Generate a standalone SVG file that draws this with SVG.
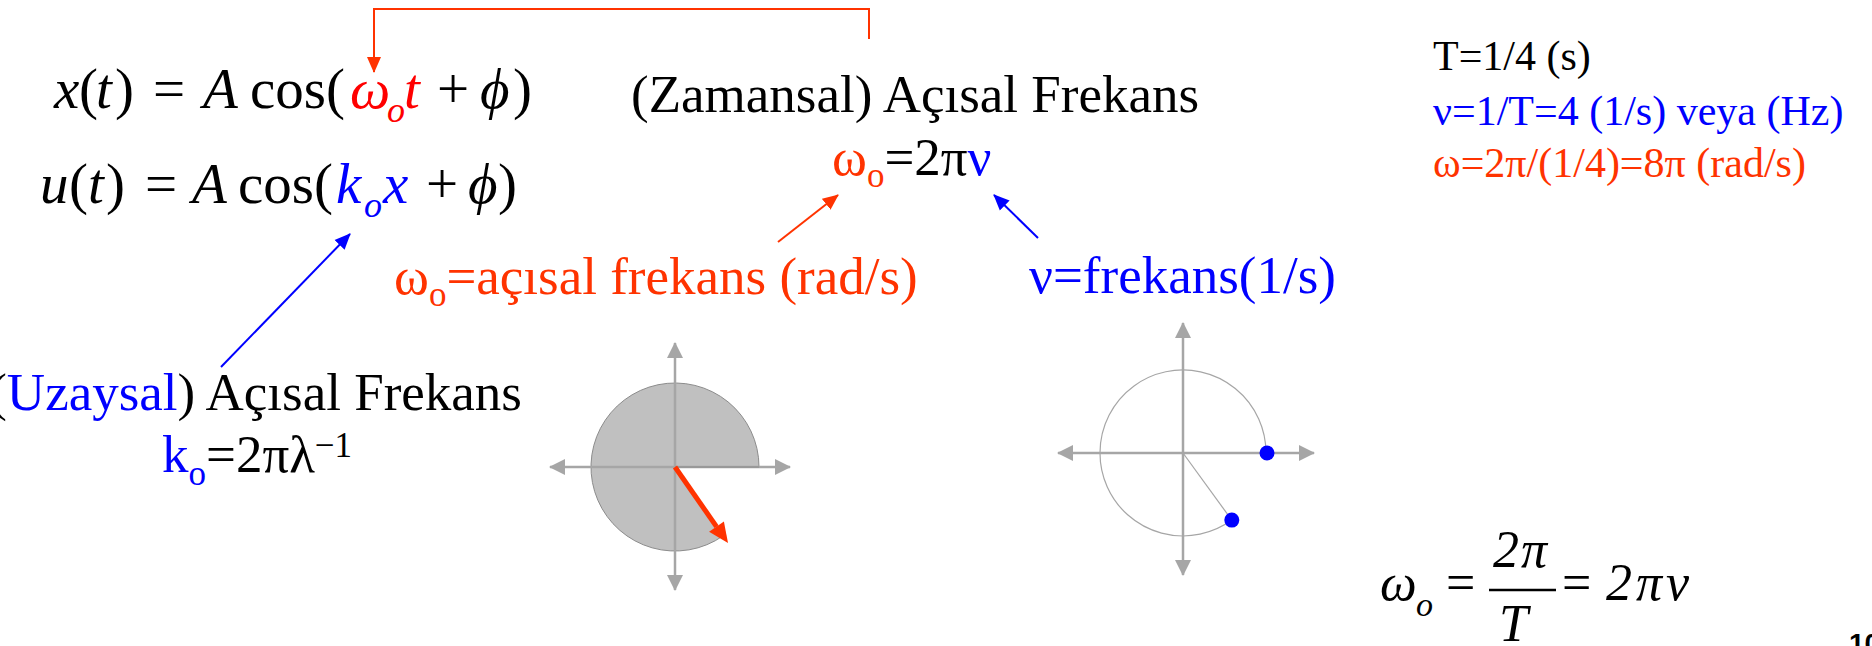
<svg xmlns="http://www.w3.org/2000/svg" width="1872" height="646" viewBox="0 0 1872 646">
<style>
text,tspan{font-family:"Liberation Serif",serif;fill:#000}
.g{font-family:"Liberation Serif","DejaVu Serif",serif}
.m{font-size:57px}
.i{font-style:italic}
.t53{font-size:53px}
.t42{font-size:42px}
.f52{font-size:52px}
.sub{font-size:35px}
.red{fill:#ff3300}
.pr{fill:#ff0000}
.blue{fill:#0000ff}
.axis{stroke:#a6a6a6;stroke-width:2.5;fill:none}
</style>
<defs>
<marker id="arR" markerUnits="userSpaceOnUse" markerWidth="16" markerHeight="16" viewBox="0 0 16 16" refX="15" refY="8" orient="auto">
<path d="M0,1 L16,8 L0,15 Z" fill="#ff3300"/>
</marker>
<marker id="arB" markerUnits="userSpaceOnUse" markerWidth="16" markerHeight="16" viewBox="0 0 16 16" refX="15" refY="8" orient="auto">
<path d="M0,1 L16,8 L0,15 Z" fill="#0000ff"/>
</marker>
<marker id="arG" markerUnits="userSpaceOnUse" markerWidth="16" markerHeight="16" viewBox="0 0 16 16" refX="15" refY="8" orient="auto">
<path d="M0,0 L16,8 L0,16 Z" fill="#a6a6a6"/>
</marker>
</defs>
<rect width="1872" height="646" fill="#fff"/>

<g id="eq-x">
<text class="m" y="108"><tspan x="54" class="i">x</tspan><tspan x="79">(</tspan><tspan x="96" class="i">t</tspan><tspan x="115">)</tspan><tspan x="153">=</tspan><tspan x="203" class="i">A</tspan><tspan x="250">cos(</tspan><tspan x="350" class="i pr g">ω</tspan><tspan x="387" y="122" class="i pr" style="font-size:36px">o</tspan><tspan x="404" y="108" class="i pr">t</tspan><tspan x="437">+</tspan><tspan x="480" class="i g">ϕ</tspan><tspan x="513">)</tspan></text>
</g>

<g id="eq-u">
<text class="m" y="203"><tspan x="40" class="i">u</tspan><tspan x="69">(</tspan><tspan x="88" class="i">t</tspan><tspan x="106">)</tspan><tspan x="145">=</tspan><tspan x="192" class="i">A</tspan><tspan x="238">cos(</tspan><tspan x="336" class="i blue">k</tspan><tspan x="364" y="217" class="i blue" style="font-size:36px">o</tspan><tspan x="383" y="203" class="i blue">x</tspan><tspan x="426">+</tspan><tspan x="468" class="i g">ϕ</tspan><tspan x="498">)</tspan></text>
</g>

<g id="zamansal">
<text class="t53" x="631" y="112">(Zamansal) Açısal Frekans</text>
</g>

<g id="omega-eq">
<text class="t53" x="832" y="175"><tspan class="red g">ω</tspan><tspan class="red sub" dy="12">o</tspan><tspan dy="-12">=2</tspan><tspan class="g">π</tspan><tspan class="blue g">ν</tspan></text>
</g>

<g id="omega-label">
<text class="t53" x="394" y="294"><tspan class="red g">ω</tspan><tspan class="red sub" dy="12">o</tspan><tspan class="red" dy="-12">=açısal frekans (rad/s)</tspan></text>
</g>

<g id="nu-label">
<text class="t53" x="1029" y="293"><tspan class="blue g">ν</tspan><tspan class="blue">=frekans(1/s)</tspan></text>
</g>

<g id="uzaysal">
<text class="t53" x="522" y="410" text-anchor="end">(<tspan class="blue">Uzaysal</tspan>) Açısal Frekans</text>
</g>

<g id="k-eq">
<text class="t53" x="162" y="472"><tspan class="blue">k</tspan><tspan class="blue sub" dy="13">o</tspan><tspan dy="-13">=2</tspan><tspan class="g">πλ</tspan><tspan class="g sub" dy="-15">−1</tspan></text>
</g>

<g id="values">
<text class="t42" x="1433" y="70">T=1/4 (s)</text>
<text class="t42" x="1433" y="125"><tspan class="blue g">ν</tspan><tspan class="blue">=1/T=4 (1/s) veya (Hz)</tspan></text>
<text class="t42" x="1433" y="177"><tspan class="red g">ω</tspan><tspan class="red">=2</tspan><tspan class="red g">π</tspan><tspan class="red">/(1/4)=8</tspan><tspan class="red g">π</tspan><tspan class="red"> (rad/s)</tspan></text>
</g>

<g id="formula">
<text class="f52 i g" x="1380" y="600">ω</text>
<text style="font-size:34px" class="i" x="1416" y="616">o</text>
<text class="f52" x="1446" y="600">=</text>
<text class="f52 i" x="1493" y="567" style="letter-spacing:2px">2<tspan class="g">π</tspan></text>
<line x1="1489" y1="590" x2="1556" y2="590" stroke="#000" stroke-width="2.5"/>
<text class="f52 i" x="1499" y="641">T</text>
<text class="f52" x="1562" y="600">=</text>
<text class="f52 i" x="1606" y="600" style="letter-spacing:4px">2<tspan class="g">πν</tspan></text>
</g>

<g id="page-number">
<text x="1849" y="653" style="font-family:'Liberation Sans',Arial,sans-serif;font-size:28px;font-weight:bold">10</text>
</g>

<g id="phasor-left">
<path d="M675,467 L759,467 A84,84 0 1 0 723.2,535.8 Z" fill="#c0c0c0" stroke="#8c8c8c" stroke-width="1"/>
<line class="axis" x1="675" y1="467" x2="790" y2="467" marker-end="url(#arG)"/>
<line class="axis" x1="675" y1="467" x2="550" y2="467" marker-end="url(#arG)"/>
<line class="axis" x1="675" y1="467" x2="675" y2="343" marker-end="url(#arG)"/>
<line class="axis" x1="675" y1="467" x2="675" y2="590" marker-end="url(#arG)"/>
<line x1="675" y1="467" x2="759" y2="467" stroke="#999" stroke-width="2"/>
<line x1="675" y1="467" x2="716.5" y2="526.6" stroke="#ff3300" stroke-width="5"/>
<polygon points="728,543 709.1,531.8 723.9,521.4" fill="#ff3300"/>
</g>

<g id="phasor-right">
<path d="M1266,453 A83,83 0 1 0 1231.8,520.1" fill="none" stroke="#a6a6a6" stroke-width="1.2"/>
<line class="axis" x1="1183" y1="453" x2="1314" y2="453" marker-end="url(#arG)"/>
<line class="axis" x1="1183" y1="453" x2="1058" y2="453" marker-end="url(#arG)"/>
<line class="axis" x1="1183" y1="453" x2="1183" y2="323" marker-end="url(#arG)"/>
<line class="axis" x1="1183" y1="453" x2="1183" y2="575" marker-end="url(#arG)"/>
<line x1="1183" y1="453" x2="1231.8" y2="520.1" stroke="#a6a6a6" stroke-width="1.2"/>
<circle cx="1267" cy="453" r="7.5" fill="#0000ff"/>
<circle cx="1231.8" cy="520.1" r="7.5" fill="#0000ff"/>
</g>

<g id="connectors" fill="none" stroke-width="2">
<path d="M869,39 V9 H374 V72" stroke="#ff3300" marker-end="url(#arR)"/>
<line x1="778" y1="242" x2="838" y2="195" stroke="#ff3300" marker-end="url(#arR)"/>
<line x1="1038" y1="238" x2="994" y2="195" stroke="#0000ff" marker-end="url(#arB)"/>
<line x1="221" y1="367" x2="350" y2="234" stroke="#0000ff" marker-end="url(#arB)"/>
</g>
</svg>
